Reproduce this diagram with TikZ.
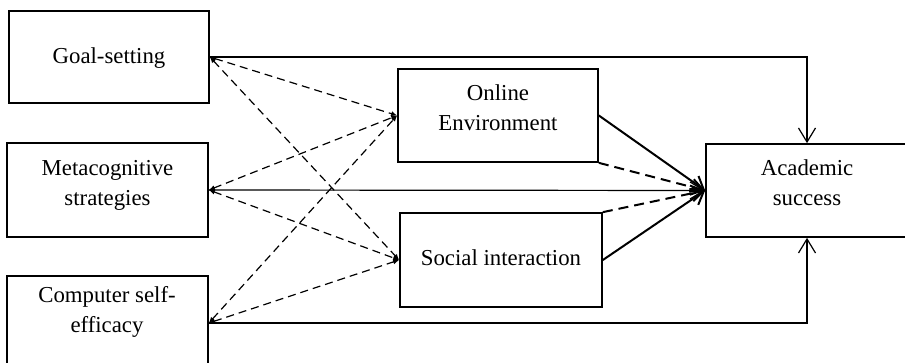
\documentclass[tikz,border=0pt]{standalone}
\usepackage{fontspec}
\setmainfont{Liberation Serif}
\usetikzlibrary{arrows.meta}
\begin{document}
\begin{tikzpicture}[x=0.5pt,y=-0.5pt,
  box/.style={draw, line width=0.85pt, inner sep=0pt},
  lbl/.style={align=center, inner sep=0pt, font=\fontsize{11.4}{15}\selectfont},
  effect/.style={line width=0.6pt, -{Straight Barb[length=7pt,width=8.5pt]}},
  corr/.style={line width=0.6pt, dash pattern=on 4pt off 2.5pt,
    {Latex[length=3pt,width=2.6pt]}-{Latex[length=3pt,width=2.6pt]}},
  med/.style={line width=1pt, -{Straight Barb[length=6pt,width=8pt]}},
  meddash/.style={med, dash pattern=on 5pt off 3pt}]
\path[use as bounding box] (0,0) rectangle (905,363);
\clip (0,0) rectangle (905,363);

% predictors
\node[box, minimum width=100pt, minimum height=46pt] (goal) at (109,57) {};
\node[box, minimum width=100.5pt, minimum height=47pt] (meta) at (107.5,190) {};
\node[box, minimum width=100.5pt, minimum height=47pt] (cse) at (107.5,323) {};
% mediators
\node[box, minimum width=100pt, minimum height=46.5pt] (online) at (498,115.5) {};
\node[box, minimum width=101pt, minimum height=47pt] (social) at (501,260) {};
% outcome
\node[box, minimum width=101pt, minimum height=46.5pt] (acad) at (807,190.5) {};

% labels
\node[lbl] (goalT) at (109,58) {Goal-setting};
\node[lbl] (metaT) at (107.5,185) {Metacognitive\\strategies};
\node[lbl] (cseT) at (107,312) {Computer self-\\efficacy};
\node[lbl] (onlineT) at (498,108) {Online\\Environment};
\node[lbl] (socialT) at (501,257.5) {Social interaction};
\node[lbl] (acadT) at (807,183) {Academic\\success};

% direct effects
\coordinate (gc) at (acad.north |- goal.east);
\coordinate (cc) at (acad.south |- cse.east);
\draw[effect] (goal.east) -- (gc) -- (acad.north);
\draw[effect] (meta.east) -- (acad.west);
\draw[effect] (cse.east) -- (cc) -- (acad.south);

% mediated effects
\draw[med] (online.east) -- (acad.west);
\draw[meddash] (online.south east) -- (acad.west);
\draw[meddash] (social.north east) -- (acad.west);
\draw[med] (social.east) -- (acad.west);

% predictor-mediator paths
\foreach \p in {goal,meta,cse}{
  \draw[corr] (\p.east) -- (online.west);
  \draw[corr] (\p.east) -- (social.west);
}
\end{tikzpicture}
\end{document}
